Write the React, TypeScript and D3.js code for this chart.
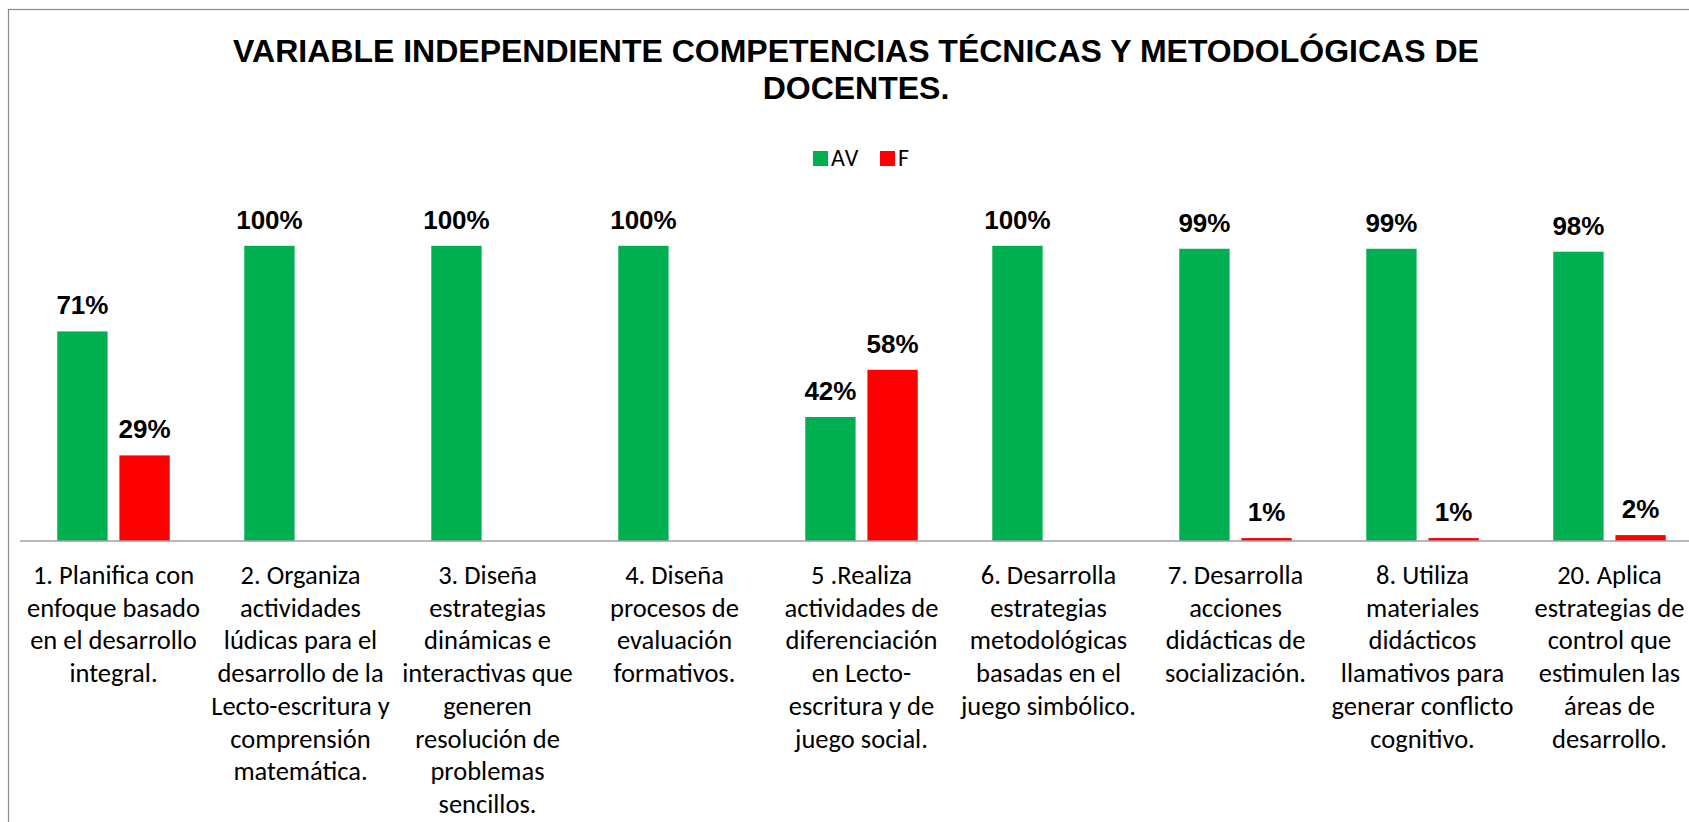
import React, { useEffect, useRef } from 'react';
import * as d3 from 'd3';

const W = 1689;
const H = 822;

const titleLines = [
  'VARIABLE INDEPENDIENTE COMPETENCIAS TÉCNICAS Y METODOLÓGICAS DE',
  'DOCENTES.',
];

const seriesNames = ['AV', 'F'];
const seriesColors = ['#00B050', '#FF0000'];

// etiquetas de categoría, ya partidas en líneas como en el original
const categoryLines = [
  ['1. Planifica con', 'enfoque basado', 'en el desarrollo', 'integral.'],
  ['2. Organiza', 'actividades', 'lúdicas para el', 'desarrollo de la', 'Lecto-escritura y', 'comprensión', 'matemática.'],
  ['3. Diseña', 'estrategias', 'dinámicas e', 'interactivas que', 'generen', 'resolución de', 'problemas', 'sencillos.'],
  ['4. Diseña', 'procesos de', 'evaluación', 'formativos.'],
  ['5 .Realiza', 'actividades de', 'diferenciación', 'en Lecto-', 'escritura y de', 'juego social.'],
  ['6. Desarrolla', 'estrategias', 'metodológicas', 'basadas en el', 'juego simbólico.'],
  ['7. Desarrolla', 'acciones', 'didácticas de', 'socialización.'],
  ['8. Utiliza', 'materiales', 'didácticos', 'llamativos para', 'generar conflicto', 'cognitivo.'],
  ['20. Aplica', 'estrategias de', 'control que', 'estimulen las', 'áreas de', 'desarrollo.'],
];

const avValues = [0.71, 1.0, 1.0, 1.0, 0.42, 1.0, 0.99, 0.99, 0.98];
const fValues = [0.29, 0, 0, 0, 0.58, 0, 0.01, 0.01, 0.02];

const LABEL_FONT = 'Carlito, Calibri, Lato, sans-serif';
const BOLD_FONT = '"Liberation Sans", Arial, sans-serif';

const App = () => {
  const svgRef = useRef<SVGSVGElement>(null);

  useEffect(() => {
    const svg = d3.select(svgRef.current);
    svg.selectAll('*').remove();

    // marco del gráfico
    svg.append('rect')
      .attr('x', 8.5).attr('y', 9.5)
      .attr('width', W).attr('height', H)
      .attr('fill', '#fff')
      .attr('stroke', '#8c8c8c')
      .attr('stroke-width', 1.2);

    // título
    svg.append('g')
      .selectAll('text')
      .data(titleLines)
      .join('text')
      .attr('x', 856)
      .attr('y', (d, i) => 62 + i * 37)
      .attr('text-anchor', 'middle')
      .style('font-family', BOLD_FONT)
      .style('font-weight', 'bold')
      .style('font-size', '32px')
      .text(d => d);

    // leyenda
    const legend = svg.append('g').attr('transform', 'translate(813,151)');
    const legendX = [0, 67];
    seriesNames.forEach((name, i) => {
      legend.append('rect')
        .attr('x', legendX[i]).attr('y', 0)
        .attr('width', 15).attr('height', 15)
        .attr('fill', seriesColors[i]);
      legend.append('text')
        .attr('x', legendX[i] + 18).attr('y', 14.5)
        .style('font-family', LABEL_FONT)
        .style('font-size', '24px')
        .style('letter-spacing', '1px')
        .text(name);
    });

    // escalas
    const categories = categoryLines.map((_, i) => String(i));
    const x0 = d3.scaleBand()
      .domain(categories)
      .range([20, 20 + 9 * 187]);
    const x1 = d3.scaleBand()
      .domain(seriesNames)
      .range([0, x0.bandwidth()])
      .paddingInner(0.19)
      .paddingOuter(0.6);
    const yScale = d3.scaleLinear()
      .domain([0, 1.2])
      .range([541, 541 - 1.2 * 295.2]);

    const rows = categories.map((c, i) => ({
      c,
      values: [avValues[i], fValues[i]],
    }));

    const groups = svg.append('g')
      .selectAll('g')
      .data(rows)
      .join('g')
      .attr('transform', d => `translate(${x0(d.c)},0)`);

    const cells = groups.selectAll('g')
      .data(d => d.values.map((v, k) => ({ v, k })).filter(e => e.v > 0))
      .join('g');

    cells.append('rect')
      .attr('x', d => x1(seriesNames[d.k]))
      .attr('y', d => yScale(d.v))
      .attr('width', x1.bandwidth())
      .attr('height', d => yScale(0) - yScale(d.v))
      .attr('fill', d => seriesColors[d.k]);

    cells.append('text')
      .attr('x', d => x1(seriesNames[d.k]) + x1.bandwidth() / 2)
      .attr('y', d => yScale(d.v) - 17)
      .attr('text-anchor', 'middle')
      .style('font-family', BOLD_FONT)
      .style('font-weight', 'bold')
      .style('font-size', '26px')
      .text(d => d3.format('.0%')(d.v));

    // eje de categorías
    const axis = svg.append('g')
      .attr('transform', `translate(0,${yScale(0)})`)
      .call(d3.axisBottom(x0).tickSize(0).tickFormat(() => ''));
    axis.select('.domain')
      .attr('d', `M20,0H${W}`)
      .attr('stroke', '#a0a0a0')
      .attr('stroke-width', 1.6);

    // etiquetas de categoría (multilínea)
    const labels = svg.append('g')
      .selectAll('text')
      .data(rows)
      .join('text')
      .attr('text-anchor', 'middle')
      .attr('y', 584)
      .style('font-family', LABEL_FONT)
      .style('font-size', '26.5px')
      .attr('fill', '#000');

    labels.each(function (d, i) {
      const cx = x0(d.c) + x0.bandwidth() / 2;
      const t = d3.select(this);
      categoryLines[i].forEach((line, j) => {
        t.append('tspan')
          .attr('x', cx)
          .attr('y', 584 + j * 32.7)
          .text(line);
      });
      // Excel desplaza la etiqueta si no cabe dentro del marco
      const w = (this as SVGTextElement).getBBox().width;
      const minCx = 7 + w / 2;
      if (cx < minCx) t.selectAll('tspan').attr('x', minCx);
    });
  }, []);

  return (
    <svg
      ref={svgRef}
      width={W}
      height={H}
      style={{ position: 'absolute', left: 0, top: 0, background: '#fff' }}
    />
  );
};

export default App;
